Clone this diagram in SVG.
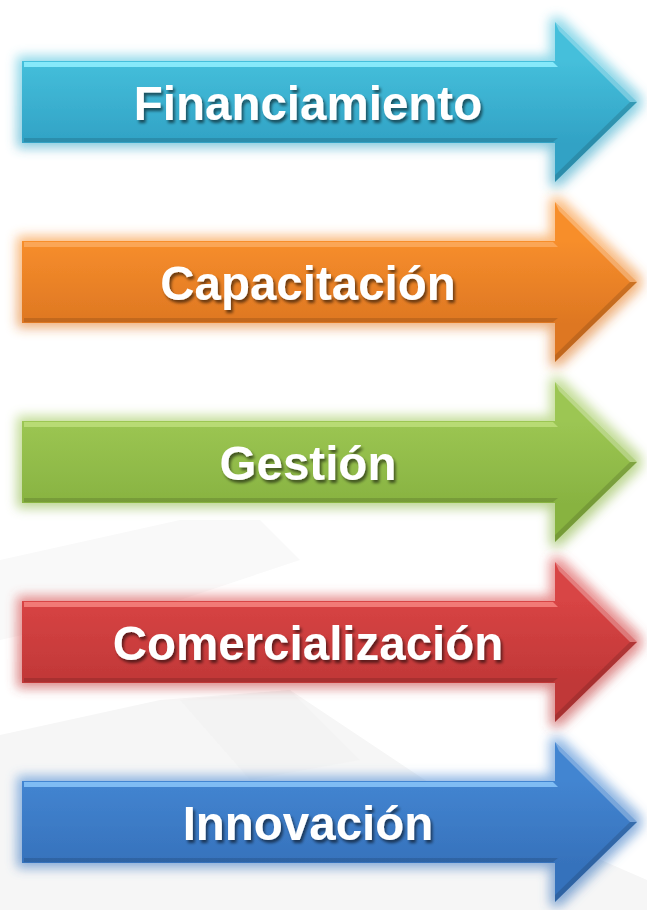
<svg xmlns="http://www.w3.org/2000/svg" xmlns:xlink="http://www.w3.org/1999/xlink" width="647" height="910" viewBox="0 0 647 910">
  <style>
    .label { font-family: "Liberation Sans", Arial, sans-serif; font-weight: bold; font-size: 47.5px; fill: #ffffff; text-anchor: middle; }
    .hl { fill: #ffffff; opacity: 0.3; }
    .dk { fill: #000000; opacity: 0.13; }
  </style>
  <defs>
    <path id="arrowShape" d="M22,-41 L555,-41 L555,-80 L637,0 L555,80 L555,41 L22,41 Z"/>
    <path id="topStrip" d="M24,-40 L553,-40 L558,-35 L24,-35 Z"/>
    <path id="botStrip" d="M24,36 L558,36 L553,40 L24,40 Z"/>
    <path id="headDark" d="M637,0 L555,80 L555,73 L630,0 Z"/>
    <path id="headLight" d="M555,-80 L637,0 L630,0 L559,-71 Z"/>
    <filter id="glow" x="-10%" y="-25%" width="120%" height="150%">
      <feMorphology in="SourceGraphic" operator="dilate" radius="5" result="d"/>
      <feGaussianBlur in="d" stdDeviation="6" result="b"/>
      <feComponentTransfer in="b" result="bo"><feFuncA type="linear" slope="0.6"/></feComponentTransfer>
      <feMerge><feMergeNode in="bo"/><feMergeNode in="SourceGraphic"/></feMerge>
    </filter>
    <filter id="tshadow" x="-10%" y="-30%" width="120%" height="160%">
      <feGaussianBlur in="SourceAlpha" stdDeviation="1.5"/>
      <feOffset dx="2" dy="3" result="o"/>
      <feComponentTransfer in="o" result="s"><feFuncA type="linear" slope="0.55"/></feComponentTransfer>
      <feMerge><feMergeNode in="s"/><feMergeNode in="SourceGraphic"/></feMerge>
    </filter>
    <linearGradient id="gCyan" x1="0" y1="0" x2="0" y2="1">
      <stop offset="0.24" stop-color="#45bfdb"/>
      <stop offset="0.76" stop-color="#31a2c5"/>
    </linearGradient>
    <linearGradient id="gOrange" x1="0" y1="0" x2="0" y2="1">
      <stop offset="0.24" stop-color="#f78e2c"/>
      <stop offset="0.76" stop-color="#de7722"/>
    </linearGradient>
    <linearGradient id="gGreen" x1="0" y1="0" x2="0" y2="1">
      <stop offset="0.24" stop-color="#9cc653"/>
      <stop offset="0.76" stop-color="#88b341"/>
    </linearGradient>
    <linearGradient id="gRed" x1="0" y1="0" x2="0" y2="1">
      <stop offset="0.24" stop-color="#d84444"/>
      <stop offset="0.76" stop-color="#c03737"/>
    </linearGradient>
    <linearGradient id="gBlue" x1="0" y1="0" x2="0" y2="1">
      <stop offset="0.24" stop-color="#4385d1"/>
      <stop offset="0.76" stop-color="#3672bc"/>
    </linearGradient>
  </defs>

  <rect x="0" y="0" width="647" height="910" fill="#ffffff"/>
  <g id="background">
    <polygon points="0,735 160,700 290,690 440,790 647,880 647,910 0,910" fill="#f6f6f6"/>
    <polygon points="0,560 180,520 260,520 300,560 180,600 0,640" fill="#f9f9f9"/>
    <polygon points="180,700 290,690 360,760 250,780" fill="#f3f3f3"/>
  </g>

  <g id="connectors"></g>

  <g id="node-financiamiento" transform="translate(0,102)">
    <use href="#arrowShape" fill="url(#gCyan)" filter="url(#glow)"/>
    <use href="#topStrip" fill="#86e9fa"/>
    <use href="#botStrip" class="dk"/>
    <use href="#headLight" class="hl"/>
    <use href="#headDark" class="dk"/>
    <text class="label" x="308" y="18" filter="url(#tshadow)">Financiamiento</text>
  </g>

  <g id="node-capacitacion" transform="translate(0,282)">
    <use href="#arrowShape" fill="url(#gOrange)" filter="url(#glow)"/>
    <use href="#topStrip" fill="#fba656"/>
    <use href="#botStrip" class="dk"/>
    <use href="#headLight" class="hl"/>
    <use href="#headDark" class="dk"/>
    <text class="label" x="308" y="18" filter="url(#tshadow)">Capacitación</text>
  </g>

  <g id="node-gestion" transform="translate(0,462)">
    <use href="#arrowShape" fill="url(#gGreen)" filter="url(#glow)"/>
    <use href="#topStrip" fill="#b8db74"/>
    <use href="#botStrip" class="dk"/>
    <use href="#headLight" class="hl"/>
    <use href="#headDark" class="dk"/>
    <text class="label" x="308" y="18" filter="url(#tshadow)">Gestión</text>
  </g>

  <g id="node-comercializacion" transform="translate(0,642)">
    <use href="#arrowShape" fill="url(#gRed)" filter="url(#glow)"/>
    <use href="#topStrip" fill="#f27a76"/>
    <use href="#botStrip" class="dk"/>
    <use href="#headLight" class="hl"/>
    <use href="#headDark" class="dk"/>
    <text class="label" x="308" y="18" filter="url(#tshadow)">Comercialización</text>
  </g>

  <g id="node-innovacion" transform="translate(0,822)">
    <use href="#arrowShape" fill="url(#gBlue)" filter="url(#glow)"/>
    <use href="#topStrip" fill="#7fbcf4"/>
    <use href="#botStrip" class="dk"/>
    <use href="#headLight" class="hl"/>
    <use href="#headDark" class="dk"/>
    <text class="label" x="308" y="18" filter="url(#tshadow)">Innovación</text>
  </g>
</svg>
